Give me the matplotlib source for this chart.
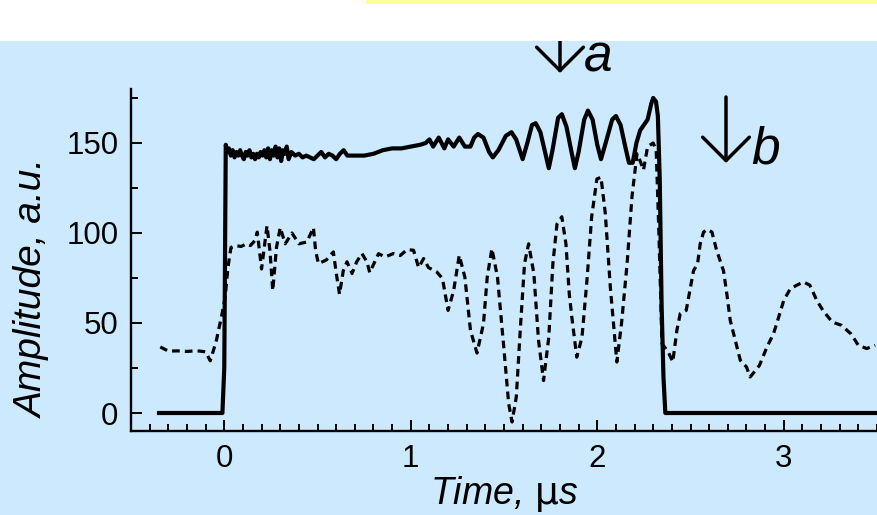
import matplotlib
matplotlib.use('Agg')
import matplotlib.pyplot as plt
from matplotlib.patches import Rectangle

# Pulse data (time in us, amplitude in a.u.)
solid_t = [-0.35, -0.01, 0.0, 0.008, 0.015, 0.025, 0.035, 0.045, 0.055, 0.065,
           0.075, 0.085, 0.095, 0.105, 0.115, 0.125, 0.135, 0.145, 0.155, 0.165,
           0.175, 0.185, 0.195, 0.205, 0.215, 0.225, 0.235, 0.245, 0.255, 0.265,
           0.275, 0.285, 0.295, 0.305, 0.315, 0.325, 0.335, 0.345, 0.36, 0.38,
           0.40, 0.42, 0.44, 0.46, 0.48, 0.50, 0.52, 0.54, 0.56, 0.58,
           0.60, 0.62, 0.64, 0.66, 0.70, 0.75, 0.80, 0.85, 0.90, 0.95,
           1.00, 1.05, 1.08, 1.10, 1.12, 1.15, 1.18, 1.20, 1.23, 1.26,
           1.29, 1.32, 1.34, 1.36, 1.39, 1.42, 1.44, 1.47, 1.51, 1.54,
           1.565, 1.60, 1.625, 1.65, 1.67, 1.695, 1.72, 1.74, 1.76, 1.79,
           1.81, 1.835, 1.86, 1.88, 1.90, 1.93, 1.95, 1.975, 2.00, 2.02,
           2.045, 2.08, 2.10, 2.125, 2.15, 2.17, 2.19, 2.21, 2.23, 2.25,
           2.27, 2.29, 2.30, 2.315, 2.325, 2.335, 2.345, 2.355, 2.365, 3.5]
solid_a = [0, 0, 25, 149, 145, 147, 143, 146, 142, 145,
           143, 146, 143, 141, 145, 143, 146, 142, 144, 141,
           144, 142, 145, 143, 146, 142, 147, 141, 146, 143,
           148, 142, 147, 140, 146, 144, 148, 141, 145, 143,
           144, 142, 143, 142, 141, 143, 145, 142, 144, 143,
           141, 144, 146, 143, 143, 143, 144, 146, 147, 147,
           148, 149, 150, 152, 148, 153, 147, 152, 148, 153,
           148, 148, 153, 155, 153, 145, 142, 146, 154, 156,
           152, 141, 150, 160, 161, 156, 145, 136, 146, 164,
           166, 159, 146, 136, 145, 163, 168, 163, 149, 141,
           150, 163, 165, 160, 148, 139, 139, 150, 157, 160,
           163, 172, 175, 173, 165, 130, 60, 20, 0, 0]

dashed_t = [-0.343, -0.30, -0.25, -0.20, -0.15, -0.10, -0.075, -0.043, -0.012, 0.005,
            0.02, 0.036, 0.06, 0.09, 0.12, 0.14, 0.166, 0.177, 0.20, 0.229,
            0.245, 0.26, 0.28, 0.30, 0.327, 0.363, 0.40, 0.443, 0.478, 0.49,
            0.505, 0.547, 0.585, 0.60, 0.618, 0.638, 0.658, 0.685, 0.71, 0.738,
            0.765, 0.78, 0.827, 0.863, 0.907, 0.944, 0.98, 1.015, 1.042, 1.069,
            1.095, 1.14, 1.17, 1.20, 1.23, 1.26, 1.29, 1.32, 1.355, 1.39,
            1.41, 1.435, 1.465, 1.50, 1.525, 1.543, 1.566, 1.587, 1.61, 1.632,
            1.66, 1.685, 1.712, 1.74, 1.762, 1.784, 1.81, 1.832, 1.85, 1.864,
            1.89, 1.918, 1.945, 1.97, 1.998, 2.02, 2.043, 2.07, 2.105, 2.13,
            2.16, 2.186, 2.213, 2.23, 2.248, 2.27, 2.30, 2.316, 2.33, 2.347,
            2.38, 2.405, 2.427, 2.445, 2.477, 2.50, 2.516, 2.538, 2.552, 2.57,
            2.59, 2.615, 2.64, 2.677, 2.695, 2.713, 2.74, 2.767, 2.80, 2.82,
            2.87, 2.91, 2.945, 2.972, 3.0, 3.035, 3.07, 3.106, 3.14, 3.177,
            3.21, 3.26, 3.31, 3.36, 3.40, 3.445, 3.49]
dashed_a = [36.7, 34.4, 34.5, 34.2, 34.6, 34.0, 29, 40, 55, 64.5,
            81, 92, 93, 92.5, 94, 93, 96, 100.5, 80, 104,
            90, 68, 92, 103, 94, 100, 94, 95, 103, 90,
            83, 85, 89.5, 78, 66, 79, 84, 77.5, 84, 88.6,
            84, 78, 88.5, 86.7, 88.6, 87.5, 90.8, 90.4, 80.8, 85.8,
            80.8, 78.3, 74.7, 57, 68, 87.6, 75.5, 46, 33.3, 49.7,
            75.5, 91.3, 75.5, 35, 5.2, -5, 9, 46, 83, 94,
            77.4, 40.4, 18, 42, 83, 105, 109, 94, 66, 53,
            31, 42, 74, 109, 130, 131, 111, 70, 28.3, 49.7,
            83, 120, 144, 140, 135, 148, 150, 146, 101.5, 38.5,
            34, 28.4, 46, 55.2, 57, 70, 79, 83, 94, 100.5,
            102, 100.5, 90.4, 79, 66, 51.5, 40.4, 29.3, 25.6, 20,
            26.5, 36.7, 44, 53, 62.6, 69, 71, 72.8, 71, 62.6,
            57, 50.5, 48.7, 44, 37.6, 35.8, 37.6]

x_ticks = [0, 1, 2, 3]
y_ticks = [0, 50, 100, 150]

plt.rcParams['font.family'] = ['Liberation Sans', 'DejaVu Sans']

bg = '#cce9fd'
fig = plt.figure(figsize=(8.77, 5.15), dpi=100, facecolor=bg)

# White strip with a yellow edge along the top
fig.patches.append(Rectangle((0, 0.9204), 1, 0.0796, transform=fig.transFigure,
                             facecolor='white', edgecolor='none', zorder=0))
fig.patches.append(Rectangle((0.4173, 0.993), 0.5827, 0.007, transform=fig.transFigure,
                             facecolor='#ffff99', edgecolor='none', zorder=0))

ax = fig.add_axes([0.1494, 0.1631, 0.8506, 0.6641])
ax.patch.set_visible(False)

ax.plot(dashed_t, dashed_a, color='black', lw=2.3, linestyle=(0, (2.4, 1.6)))
ax.plot(solid_t, solid_a, color='black', lw=3.0, solid_joinstyle='round')

ax.set_xlim(-0.5, 3.5)
ax.set_ylim(-10, 180)
ax.set_xticks(x_ticks)
ax.set_xticks([i / 10 for i in range(-5, 36)], minor=True)
ax.set_yticks(y_ticks)
ax.set_yticks([25, 75, 125, 175], minor=True)

for side in ['top', 'right']:
    ax.spines[side].set_visible(False)
for side in ['left', 'bottom']:
    ax.spines[side].set_linewidth(1.7)

ax.tick_params(which='both', direction='in', width=1.4, labelsize=22.5)
ax.tick_params(which='major', length=8)
ax.tick_params(which='minor', length=5)
ax.tick_params(axis='x', pad=9)
ax.tick_params(axis='y', pad=9)

ax.set_xlabel(r'Time, $\mathrm{\mu}$s', fontsize=27, style='italic', labelpad=0)
ax.set_ylabel('Amplitude, a.u.', fontsize=28, style='italic')
ax.yaxis.set_label_coords(-0.108, 0.418)

# Arrows marking moments a and b
arrow = dict(arrowstyle='->,head_length=0.6,head_width=0.6', lw=2.5,
             color='black', mutation_scale=28, shrinkA=0, shrinkB=0)
ax.annotate('', xy=(560, 442), xytext=(560, 509), xycoords='figure pixels',
            textcoords='figure pixels', arrowprops=arrow)
ax.annotate('', xy=(726, 352), xytext=(726, 418), xycoords='figure pixels',
            textcoords='figure pixels', arrowprops=arrow)
fig.text(584, 443, 'a', transform=None, fontsize=37, style='italic')
fig.text(751, 352, 'b', transform=None, fontsize=37, style='italic')

fig.savefig('out.png', dpi=100, facecolor=bg)
